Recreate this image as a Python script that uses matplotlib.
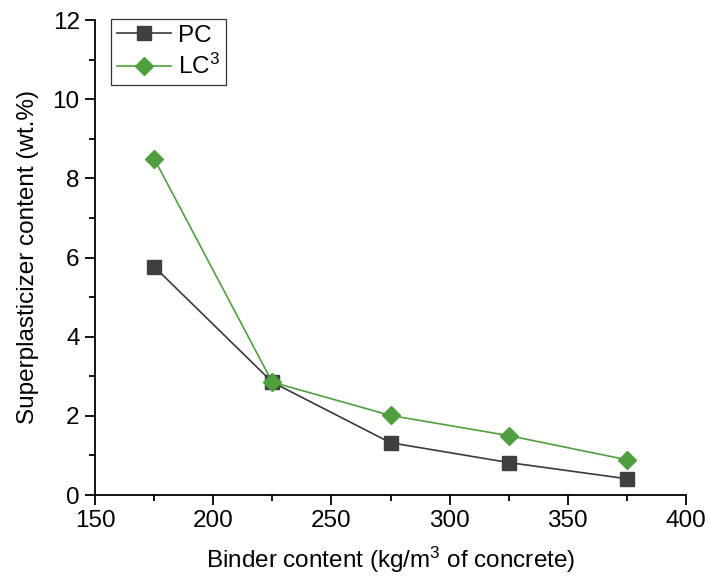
import matplotlib
matplotlib.use("Agg")
import matplotlib.pyplot as plt
from matplotlib.ticker import MultipleLocator

plt.rcParams['font.family'] = ['Liberation Sans', 'DejaVu Sans']
plt.rcParams['mathtext.fontset'] = 'custom'
plt.rcParams['mathtext.rm'] = 'Liberation Sans'
plt.rcParams['mathtext.default'] = 'regular'

# Binder content (kg/m3) and superplasticizer dosage (wt.%)
binder = [175, 225, 275, 325, 375]
sp_pc = [5.77, 2.85, 1.32, 0.82, 0.41]
sp_lc3 = [8.50, 2.85, 2.01, 1.50, 0.89]

fig = plt.figure(figsize=(7.08, 5.81), dpi=100)
ax = fig.add_axes([95/708, 1-495/581, (686-95)/708, (495-20)/581])

pc_color = '#3a3a3a'
lc_color = '#4f9f3f'
ax.plot(binder, sp_pc, color=pc_color, lw=1.2, marker='s', ms=9.5,
        mfc='#3f3f3f', mec='#3f3f3f', label='PC')
ax.plot(binder, sp_lc3, color=lc_color, lw=1.2, marker='D', ms=9.5,
        mfc=lc_color, mec=lc_color, label='LC$^3$')

ax.set_xlim(150, 400)
ax.set_ylim(0, 12)
ax.xaxis.set_major_locator(MultipleLocator(50))
ax.xaxis.set_minor_locator(MultipleLocator(25))
ax.yaxis.set_major_locator(MultipleLocator(2))
ax.yaxis.set_minor_locator(MultipleLocator(1))

for s in ('top', 'right'):
    ax.spines[s].set_visible(False)
for s in ('left', 'bottom'):
    ax.spines[s].set_linewidth(1.3)
ax.tick_params(which='major', direction='out', length=7, width=1.3,
               labelsize=17.5, pad=4)
ax.tick_params(which='minor', direction='out', length=4, width=1.3)

ax.set_xlabel('Binder content (kg/m$^3$ of concrete)', fontsize=17.5, labelpad=9)
ax.set_ylabel('Superplasticizer content (wt.%)', fontsize=17.5, labelpad=10)

leg = ax.legend(loc='upper left', bbox_to_anchor=(0.027, 1.003), fontsize=17.5,
                frameon=True, fancybox=False, edgecolor='black',
                handlelength=2.2, borderpad=0.25, labelspacing=0.3,
                handletextpad=0.3, borderaxespad=0)
leg.get_frame().set_linewidth(0.9)

fig.savefig('out.png', dpi=100, facecolor='white')
